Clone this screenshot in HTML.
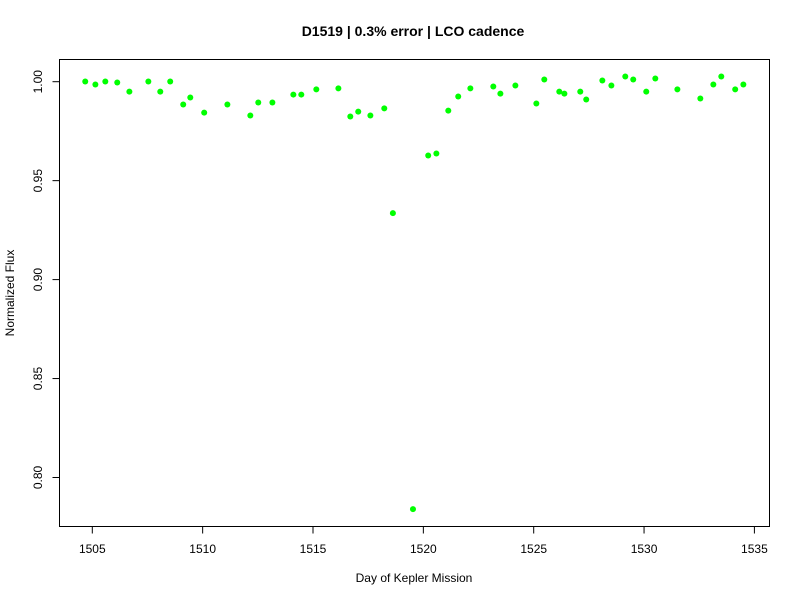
<!DOCTYPE html>
<html><head><meta charset="utf-8"><style>
html,body{margin:0;padding:0;background:#fff;}
svg{display:block;font-family:"Liberation Sans",Arial,sans-serif;}
</style></head><body>
<svg id="chart" width="800" height="600">
<text x="413" y="36" text-anchor="middle" font-size="14" font-weight="bold">D1519 | 0.3% error | LCO cadence</text>
<rect x="59.5" y="59.5" width="710" height="467" fill="none" stroke="#000"/>
<g id="xaxis"></g>
<g id="yaxis"></g>
<text x="414" y="582" text-anchor="middle" font-size="12">Day of Kepler Mission</text>
<text transform="translate(14,293) rotate(-90)" text-anchor="middle" font-size="12">Normalized Flux</text>
<g id="points"></g>
</svg>
<script>
const days = [1504.68,1505.14,1505.59,1506.13,1506.68,1507.54,1508.08,1508.53,1509.12,1509.44,1510.07,1511.12,1512.16,1512.52,1513.16,1514.11,1514.47,1515.15,1516.15,1516.69,1517.05,1517.60,1518.23,1518.62,1519.53,1520.22,1520.59,1521.13,1521.58,1522.13,1523.17,1523.49,1524.17,1525.12,1525.48,1526.16,1526.39,1527.11,1527.38,1528.11,1528.52,1529.15,1529.51,1530.10,1530.51,1531.51,1532.55,1533.14,1533.50,1534.13,1534.50];
const flux = [1.0001,0.9986,1.0001,0.9996,0.9950,1.0001,0.9950,1.0001,0.9885,0.9920,0.9844,0.9885,0.9829,0.9895,0.9895,0.9935,0.9935,0.9961,0.9966,0.9824,0.9849,0.9829,0.9865,0.9336,0.7840,0.9627,0.9637,0.9854,0.9925,0.9966,0.9976,0.9940,0.9981,0.9890,1.0011,0.9950,0.9940,0.9950,0.9910,1.0006,0.9981,1.0026,1.0011,0.9950,1.0016,0.9961,0.9915,0.9986,1.0026,0.9961,0.9986];
const xTicks = [1505,1510,1515,1520,1525,1530,1535];
const yTicks = [0.80,0.85,0.90,0.95,1.00];
const yTickLabels = ["0.80","0.85","0.90","0.95","1.00"];
const NS="http://www.w3.org/2000/svg";
function sx(v){return 92.3+(v-1505)*22.07;}
function sy(v){return 81.7-(v-1.0)*1979;}
const xa=document.getElementById('xaxis');
const ya=document.getElementById('yaxis');
const pts=document.getElementById('points');
let l=document.createElementNS(NS,'line');
l.setAttribute('x1',sx(xTicks[0]));l.setAttribute('x2',sx(xTicks[xTicks.length-1]));
l.setAttribute('y1',526.5);l.setAttribute('y2',526.5);l.setAttribute('stroke','#000');


xa.appendChild(l);
xTicks.forEach(t=>{
  const tk=document.createElementNS(NS,'line');
  tk.setAttribute('x1',sx(t));tk.setAttribute('x2',sx(t));tk.setAttribute('y1',526.5);tk.setAttribute('y2',533.5);tk.setAttribute('stroke','#000');
  
  
  xa.appendChild(tk);
  const tx=document.createElementNS(NS,'text');
  tx.setAttribute('x',sx(t));tx.setAttribute('y',553);tx.setAttribute('text-anchor','middle');tx.setAttribute('font-size','12');
  tx.textContent=t;
  
  
  xa.appendChild(tx);
});
let l2=document.createElementNS(NS,'line');
l2.setAttribute('x1',59.5);l2.setAttribute('x2',59.5);
l2.setAttribute('y1',sy(yTicks[0]));l2.setAttribute('y2',sy(yTicks[yTicks.length-1]));l2.setAttribute('stroke','#000');


ya.appendChild(l2);
yTicks.forEach((t,i)=>{
  const y=sy(t);
  const tk=document.createElementNS(NS,'line');
  tk.setAttribute('x1',52.5);tk.setAttribute('x2',59.5);tk.setAttribute('y1',y);tk.setAttribute('y2',y);tk.setAttribute('stroke','#000');
  
  
  ya.appendChild(tk);
  const tx=document.createElementNS(NS,'text');
  tx.setAttribute('transform','translate(42,'+y+') rotate(-90)');tx.setAttribute('text-anchor','middle');tx.setAttribute('font-size','12');
  tx.textContent=yTickLabels[i];
  
  
  ya.appendChild(tx);
});
days.forEach((d,i)=>{
  const c=document.createElementNS(NS,'circle');
  c.setAttribute('cx',sx(d));c.setAttribute('cy',sy(flux[i]));c.setAttribute('r',3);c.setAttribute('fill','#00ff00');
  
  
  pts.appendChild(c);
});
</script>
</body></html>
